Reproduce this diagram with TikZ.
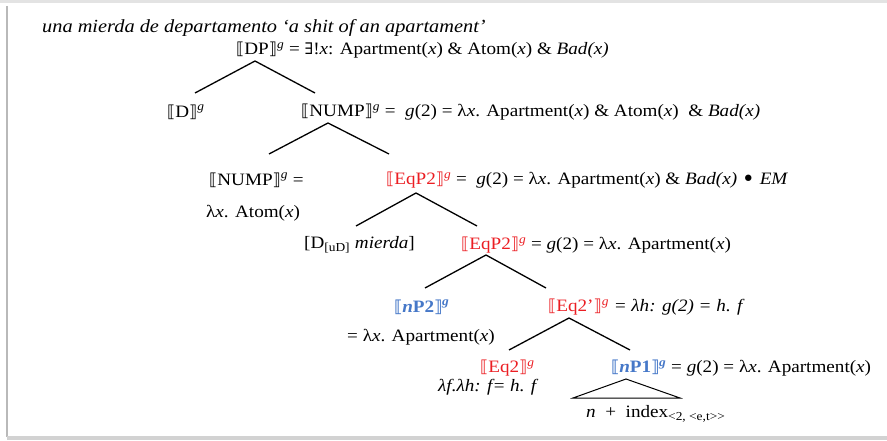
\documentclass[tikz,border=0pt]{standalone}
\usepackage{fontspec}
\setmainfont{Liberation Serif}[FakeStretch=1.1]
\newfontfamily\symf{DejaVu Serif}[Scale=0.92]
\newfontfamily\brkf{DejaVu Sans}[Scale=0.95]
\usepackage{xcolor}
\usepackage{tikz}
\usetikzlibrary{positioning}
\definecolor{semred}{RGB}{235,30,35}
\definecolor{semblue}{RGB}{70,120,200}
\newcommand{\den}[1]{{\brkf ⟦}#1{\brkf ⟧}\textsuperscript{\textit{g}}}
\newcommand{\redden}[1]{\textcolor{semred}{\den{#1}}}
\newcommand{\blueden}[1]{\textcolor{semblue}{\bfseries\den{#1}}}
\newcommand{\vx}{\textit{x}}
\newcommand{\bigdot}{{\symf\fontsize{24}{20}\selectfont\raisebox{-0.1em}{•}}}
\tikzset{
  lbl/.style={anchor=west, inner sep=0pt, font=\fontsize{17.4}{19}\selectfont},
  branch/.style={line width=1.3pt},
  frame/.style={line width=#1}
}
\begin{document}
\begin{tikzpicture}[x=1pt,y=-1pt]
  \useasboundingbox (0,0) rectangle (887,441);
  % screenshot frame
  \draw[frame=3pt, gray!22] (0,2) -- (887,2);
  \draw[frame=1.5pt, gray!55] (7,6) -- (7,437);
  \draw[frame=4pt, gray!35] (7,438) -- (887,438);
  % labels
  \node[lbl, font=\fontsize{18.5}{20}\selectfont] (title) at (42,28) {\textit{una mierda de departamento ‘a shit of an apartament’}};
  \node[lbl] (dp) at (236,50) {\den{DP} = {\symf ∃}!\vx: Apartment(\vx) \& Atom(\vx) \& \textit{Bad(x)}};
  \node[lbl] (d) at (167,112) {\den{D}};
  \node[lbl] (nump) at (301,112) {\den{NUMP} =\ \ \textit{g}(2) = λ\vx. Apartment(\vx) \& Atom(\vx)\ \ \& \textit{Bad(x)}};
  \node[lbl] (numpL) at (209,180) {\den{NUMP} =};
  \node[lbl] (atom) at (206,213) {λ\vx. Atom(\vx)};
  \node[lbl] (eqp) at (386,180) {\redden{EqP2} =\ \ \textit{g}(2) = λ\vx. Apartment(\vx) \& \textit{Bad(x)} \bigdot{} \textit{EM}};
  \node[lbl] (mierda) at (304,245) {[D\textsubscript{[uD]} \textit{mierda}]};
  \node[lbl] (eqpb) at (461,245) {\redden{EqP2} = \textit{g}(2) = λ\vx. Apartment(\vx)};
  \node[lbl] (np2) at (394,307) {\blueden{\textit{n}P2}};
  \node[lbl] (np2val) at (347,337) {= λ\vx. Apartment(\vx)};
  \node[lbl] (eqbar) at (548,307) {\redden{Eq2’} \textit{= λh: g(2) = h. f}};
  \node[lbl] (eq) at (480,368) {\redden{Eq2}};
  \node[lbl] (eqval) at (438,387) {\textit{λf.λh: f= h. f}};
  \node[lbl] (np1) at (611,368) {\blueden{\textit{n}P1} = \textit{g}(2) = λ\vx. Apartment(\vx)};
  \node[lbl] (idx) at (586,414) {\textit{n}\ \ +\ \ index\textsubscript{<2, <e,t>{}>}};
  % branches
  \coordinate (dpA) at (255,61);  \coordinate (dpL) at (195,93);  \coordinate (dpR) at (315,93);
  \coordinate (numpA) at (328,123); \coordinate (numpL2) at (269,154); \coordinate (numpR) at (389,154);
  \coordinate (eqpA) at (416,193); \coordinate (eqpL) at (356,226); \coordinate (eqpR) at (477,226);
  \coordinate (eqpbA) at (486,255); \coordinate (eqpbL) at (425,288); \coordinate (eqpbR) at (546,288);
  \coordinate (eqbarA) at (569,318); \coordinate (eqbarL) at (509,350); \coordinate (eqbarR) at (630,350);
  \coordinate (np1A) at (626,379); \coordinate (np1L) at (573,398); \coordinate (np1R) at (680,398);
  \draw[branch] (dpL) -- (dpA) -- (dpR);
  \draw[branch] (numpL2) -- (numpA) -- (numpR);
  \draw[branch] (eqpL) -- (eqpA) -- (eqpR);
  \draw[branch] (eqpbL) -- (eqpbA) -- (eqpbR);
  \draw[branch] (eqbarL) -- (eqbarA) -- (eqbarR);
  \draw[line width=1pt] (np1L) -- (np1A) -- (np1R) -- cycle;
\end{tikzpicture}
\end{document}
